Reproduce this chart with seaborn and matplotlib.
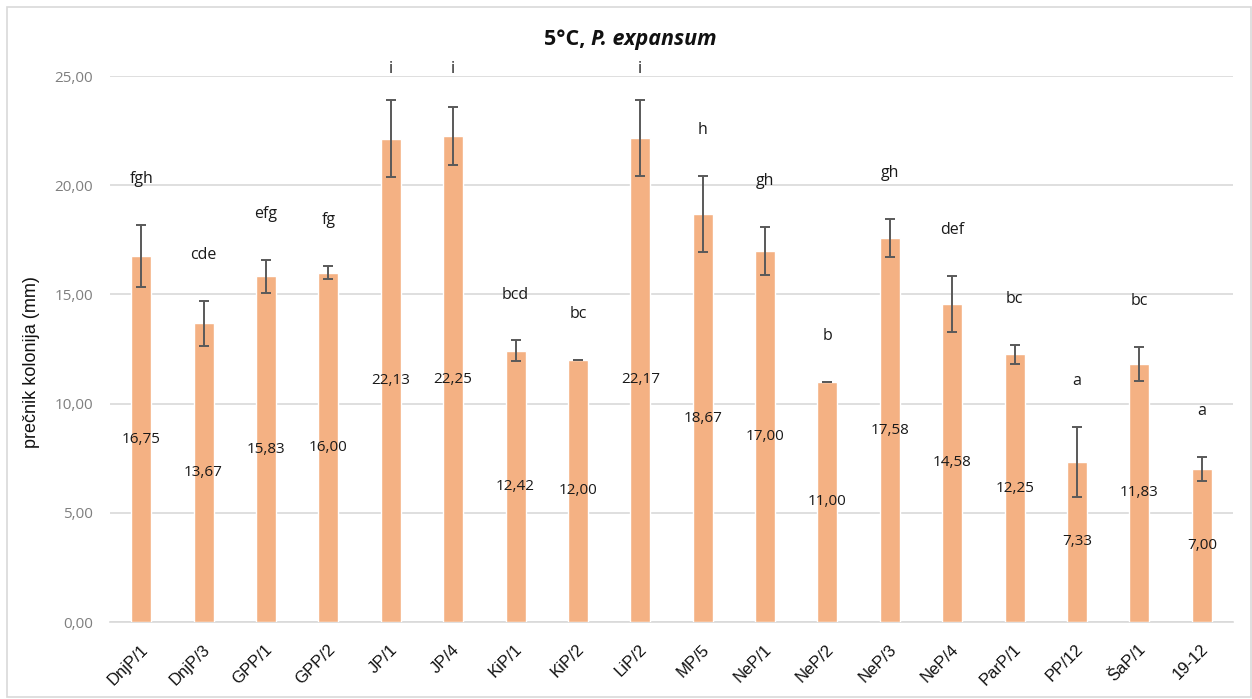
import matplotlib
matplotlib.use("Agg")
import matplotlib.pyplot as plt
import matplotlib.transforms as mtransforms
import seaborn as sns
import pandas as pd
from matplotlib.patches import Rectangle

categories = ["DnjP/1", "DnjP/3", "GPP/1", "GPP/2", "JP/1", "JP/4", "KiP/1", "KiP/2",
              "LiP/2", "MP/5", "NeP/1", "NeP/2", "NeP/3", "NeP/4", "ParP/1", "PP/12",
              "ŠaP/1", "19-12"]
means = [16.75, 13.67, 15.83, 16.00, 22.13, 22.25, 12.42, 12.00,
         22.17, 18.67, 17.00, 11.00, 17.58, 14.58, 12.25, 7.33, 11.83, 7.00]
errors = [1.42, 1.02, 0.75, 0.30, 1.75, 1.32, 0.47, 0.0,
          1.73, 1.75, 1.10, 0.0, 0.87, 1.28, 0.43, 1.62, 0.78, 0.55]
letters = ["fgh", "cde", "efg", "fg", "i", "i", "bcd", "bc",
           "i", "h", "gh", "b", "gh", "def", "bc", "a", "bc", "a"]
yticks = [0, 5, 10, 15, 20, 25]
ytick_labels = ["0,00", "5,00", "10,00", "15,00", "20,00", "25,00"]
title_plain = "5°C, "
title_italic = "P. expansum"
ylabel = "prečnik kolonija (mm)"

df = pd.DataFrame({"soj": categories, "mean": means, "err": errors, "letter": letters})

sns.set_theme(style="white")
plt.rcParams["font.family"] = ["Open Sans", "DejaVu Sans"]

W, H = 1252, 699
fig = plt.figure(figsize=(W / 100, H / 100), dpi=100)
ax = fig.add_axes([110 / W, 1 - 622 / H, (1233 - 110) / W, (622 - 76) / H])

sns.barplot(data=df, x="soj", y="mean", color="#F4B183", saturation=1, width=0.32,
            errorbar=None, ax=ax, zorder=3)
xs = list(range(len(categories)))
ax.errorbar(xs, df["mean"], yerr=df["err"], fmt="none", ecolor="#595959",
            elinewidth=1.4, capsize=3.5, capthick=1.4, zorder=4)

for x, m, e, lab in zip(xs, df["mean"], df["err"], df["letter"]):
    ax.text(x, m / 2, f"{m:.2f}".replace(".", ","), ha="center", va="center",
            fontsize=11, color="#1a1a1a", zorder=5)
    ax.text(x, min(m + e + 2.1, 25.3), lab, ha="center", va="center", fontsize=11.5,
            color="#1a1a1a", clip_on=False, zorder=5)

ax.set_xlim(-0.5, len(categories) - 0.5)
ax.set_ylim(0, 25)
ax.set_yticks(yticks)
ax.set_yticklabels(ytick_labels)
ax.tick_params(axis="y", length=0, pad=12, labelsize=11, labelcolor="#7f7f7f")
ax.tick_params(axis="x", length=0, pad=18)
shift = mtransforms.ScaledTranslation(4 / 100, 0, fig.dpi_scale_trans)
for lbl in ax.get_xticklabels():
    lbl.set_rotation(45)
    lbl.set_ha("right")
    lbl.set_va("center")
    lbl.set_rotation_mode("anchor")
    lbl.set_fontsize(12)
    lbl.set_family(["Liberation Sans", "DejaVu Sans"])
    lbl.set_color("#111111")
    lbl.set_transform(lbl.get_transform() + shift)
ax.yaxis.grid(True, color="#d9d9d9", linewidth=1.2, zorder=0)
ax.set_axisbelow(True)
for s in ["left", "right", "top"]:
    ax.spines[s].set_visible(False)
ax.spines["bottom"].set_color("#d9d9d9")
ax.spines["bottom"].set_linewidth(1.2)
ax.set_xlabel("")
ax.set_ylabel(ylabel, fontsize=13, family=["Liberation Sans", "DejaVu Sans"],
              color="#111111")
ax.yaxis.set_label_coords((40 - 110) / (1233 - 110), (622 - 362) / (622 - 76))

ty = 1 - 40 / H
fig.text(591 / W, ty, title_plain, ha="right", va="center", fontsize=15.5,
         fontweight="bold", color="#111111")
fig.text(591 / W, ty, title_italic, ha="left", va="center", fontsize=15.5,
         fontweight="bold", style="italic", color="#111111")

fig.patches.append(Rectangle((7 / W, 2 / H), (W - 8) / W, (H - 9) / H,
                             transform=fig.transFigure, fill=False,
                             edgecolor="#d9d9d9", linewidth=1.2))

fig.savefig("out.png", dpi=100)
